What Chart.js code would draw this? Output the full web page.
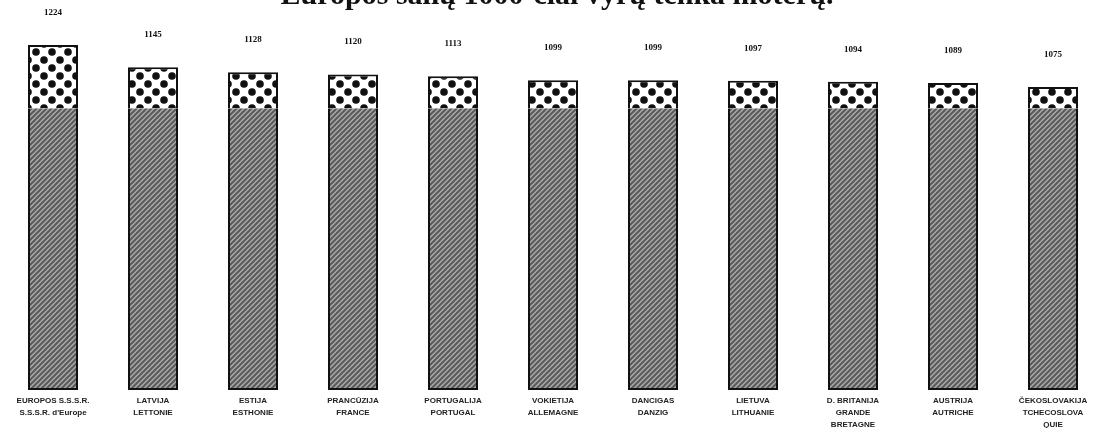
<!DOCTYPE html>
<html>
<head>
<meta charset="utf-8">
<script src="https://cdn.jsdelivr.net/npm/chart.js@4"></script>
<style>
  html, body { margin: 0; padding: 0; background: #ffffff; }
  #wrap { width: 1108px; height: 430px; position: relative; overflow: hidden; }
</style>
</head>
<body>
<div id="wrap"><canvas id="c" width="1108" height="430"></canvas></div>
<script>
const titleText = "Europos šalių 1000-čiai vyrų tenka moterų.";
const categories = [
  ["EUROPOS S.S.S.R.", "S.S.S.R. d'Europe"],
  ["LATVIJA", "LETTONIE"],
  ["ESTIJA", "ESTHONIE"],
  ["PRANCŪZIJA", "FRANCE"],
  ["PORTUGALIJA", "PORTUGAL"],
  ["VOKIETIJA", "ALLEMAGNE"],
  ["DANCIGAS", "DANZIG"],
  ["LIETUVA", "LITHUANIE"],
  ["D. BRITANIJA", "GRANDE", "BRETAGNE"],
  ["AUSTRIJA", "AUTRICHE"],
  ["ČEKOSLOVAKIJA", "TCHECOSLOVA", "QUIE"]
];
const womenPer1000Men = [1224, 1145, 1128, 1120, 1113, 1099, 1099, 1097, 1094, 1089, 1075];
const menBase = [1000, 1000, 1000, 1000, 1000, 1000, 1000, 1000, 1000, 1000, 1000];
const excessWomen = womenPer1000Men.map((v, i) => v - menBase[i]);

function hatchPattern() {
  const s = 5;
  const c = document.createElement('canvas');
  c.width = s; c.height = s;
  const g = c.getContext('2d');
  g.fillStyle = '#a9a9a9';
  g.fillRect(0, 0, s, s);
  g.strokeStyle = '#5a5a5a';
  g.lineWidth = 2;
  g.beginPath();
  g.moveTo(-1, s + 1); g.lineTo(s + 1, -1);
  g.moveTo(-1, 1); g.lineTo(1, -1);
  g.moveTo(s - 1, s + 1); g.lineTo(s + 1, s - 1);
  g.stroke();
  return g.createPattern(c, 'repeat');
}
function dotPattern() {
  const s = 16;
  const c = document.createElement('canvas');
  c.width = s; c.height = s;
  const g = c.getContext('2d');
  g.fillStyle = '#ffffff';
  g.fillRect(0, 0, s, s);
  g.fillStyle = '#111111';
  [[4, 4], [12, 12]].forEach(([x, y]) => {
    g.beginPath(); g.arc(x, y, 3.8, 0, Math.PI * 2); g.fill();
  });
  return g.createPattern(c, 'repeat');
}

const topLabels = {
  id: 'topLabels',
  afterDatasetsDraw(chart) {
    const ctx = chart.ctx;
    const meta = chart.getDatasetMeta(1);
    ctx.save();
    ctx.font = 'bold 9px "Liberation Serif", serif';
    ctx.fillStyle = '#111';
    ctx.textAlign = 'center';
    ctx.textBaseline = 'alphabetic';
    meta.data.forEach((bar, i) => {
      ctx.fillText(String(womenPer1000Men[i]), bar.x, bar.y - 30);
    });
    ctx.restore();
  }
};
const cutTitle = {
  id: 'cutTitle',
  afterDraw(chart) {
    const ctx = chart.ctx;
    ctx.save();
    ctx.font = 'bold 30px "Liberation Serif", serif';
    ctx.fillStyle = '#111';
    ctx.textAlign = 'center';
    ctx.textBaseline = 'alphabetic';
    ctx.fillText(titleText, 557, 4);
    ctx.restore();
  }
};

new Chart(document.getElementById('c'), {
  type: 'bar',
  data: {
    labels: categories,
    datasets: [
      {
        label: 'vyrai',
        data: menBase,
        backgroundColor: hatchPattern(),
        borderColor: '#111',
        borderWidth: 2,
        borderSkipped: 'top',
        barPercentage: 0.5,
        categoryPercentage: 1.0
      },
      {
        label: 'moterys',
        data: excessWomen,
        backgroundColor: dotPattern(),
        borderColor: '#111',
        borderWidth: 2,
        borderSkipped: 'bottom',
        barPercentage: 0.5,
        categoryPercentage: 1.0
      }
    ]
  },
  options: {
    responsive: false,
    animation: false,
    layout: { padding: { top: 20, left: 3, right: 5, bottom: 2 } },
    plugins: { legend: { display: false }, tooltip: { enabled: false }, title: { display: false } },
    scales: {
      x: {
        stacked: true,
        grid: { display: false },
        border: { display: false },
        ticks: {
          autoSkip: false, maxRotation: 0, minRotation: 0, padding: -3,
          color: '#222',
          font: { family: '"Liberation Sans", Arial, sans-serif', size: 8, weight: 'bold', lineHeight: 1.5 }
        }
      },
      y: {
        stacked: true,
        display: false,
        min: 0,
        max: 1313
      }
    }
  },
  plugins: [topLabels, cutTitle]
});
</script>
</body>
</html>
